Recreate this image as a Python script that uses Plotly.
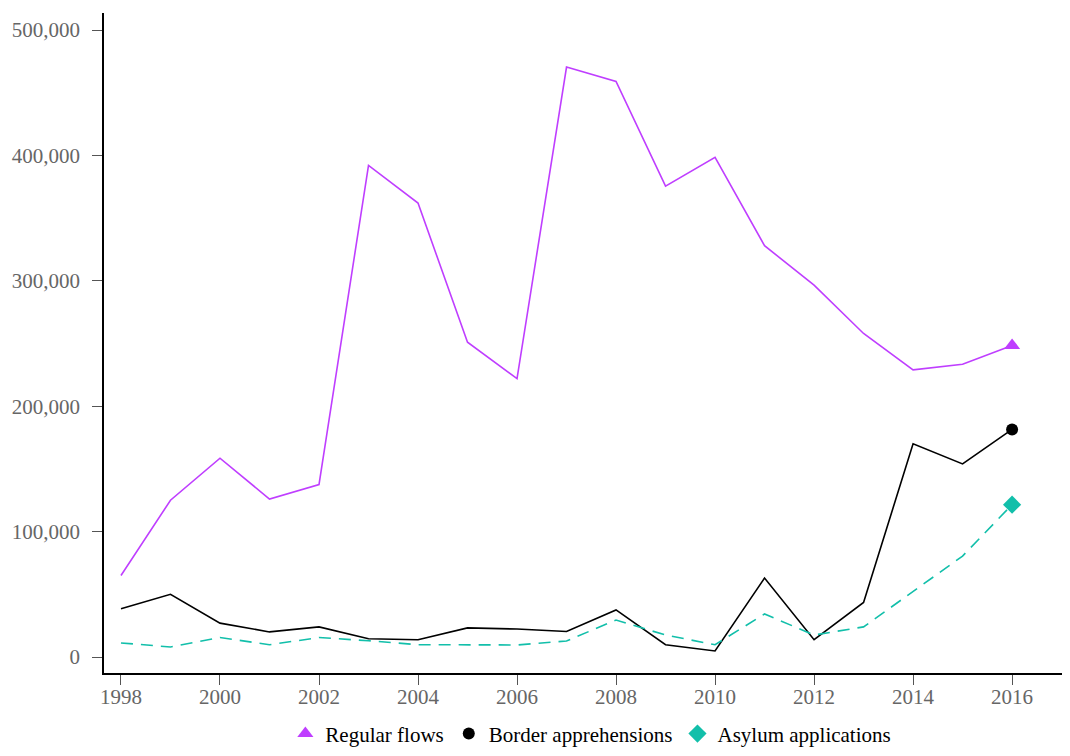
import plotly.graph_objects as go

years = list(range(1998, 2017))
regular_flows = [65000, 125000, 158500, 126000, 137500, 392000, 362000, 251000, 222000,
                 470500, 459000, 375500, 398500, 328000, 296500, 258000, 229000, 233500, 248500]
border_apprehensions = [38500, 50000, 27000, 20000, 24000, 14500, 13800, 23200, 22300,
                        20300, 37500, 9800, 4800, 63000, 13800, 43500, 170000, 154000, 181500]
asylum_applications = [11200, 8000, 15500, 9800, 15500, 13000, 9800, 9600, 9600,
                       12800, 29500, 17500, 9800, 34300, 17500, 24000, 52500, 80500, 121500]

series_names = ["Regular flows", "Border apprehensions", "Asylum applications"]
colors = ["#BF3EFF", "#000000", "#12BFAA"]
symbols = ["triangle-up", "circle", "diamond"]
dashes = ["solid", "solid", "12px,8px"]
marker_sizes = [14, 12, 14]
y_ticks = [0, 100000, 200000, 300000, 400000, 500000]
x_ticks = list(range(1998, 2017, 2))

fig = go.Figure()
for name, vals, col, sym, dsh, ms in zip(series_names,
                                         [regular_flows, border_apprehensions, asylum_applications],
                                         colors, symbols, dashes, marker_sizes):
    fig.add_trace(go.Scatter(x=years, y=vals, mode="lines",
                             line=dict(color=col, width=1.6, dash=dsh),
                             showlegend=False, hoverinfo="skip"))
    fig.add_trace(go.Scatter(x=[years[-1]], y=[vals[-1]], mode="markers", name=name,
                             marker=dict(color=col, symbol=sym, size=ms)))

fig.update_layout(
    width=1062, height=740,
    margin=dict(l=96, r=0, t=5, b=75),
    plot_bgcolor="white", paper_bgcolor="white",
    font=dict(family="Liberation Serif", size=21, color="#111111"),
    legend=dict(orientation="h", x=0.504, xanchor="center", xref="paper",
                y=0.019, yanchor="middle", yref="container",
                font=dict(family="Liberation Serif", size=21, color="#000000"),
                itemwidth=30, tracegroupgap=0),
    xaxis=dict(range=[1997.657, 2017.17], tickvals=x_ticks, ticktext=[str(v) for v in x_ticks],
               showgrid=False, zeroline=False, showline=True, linecolor="#000000", linewidth=1.5,
               ticks="outside", ticklen=10, tickcolor="#555555", ticklabelstandoff=-6,
               tickfont=dict(family="Liberation Serif", size=21, color="#666666")),
    yaxis=dict(range=[-12760, 513560], tickvals=y_ticks, ticktext=[f"{v:,}" for v in y_ticks],
               showgrid=False, zeroline=False, showline=True, linecolor="#000000", linewidth=1.5,
               ticks="outside", ticklen=10, tickcolor="#555555", ticklabelstandoff=8,
               tickfont=dict(family="Liberation Serif", size=21, color="#666666")),
)

fig.write_html("out.html")
